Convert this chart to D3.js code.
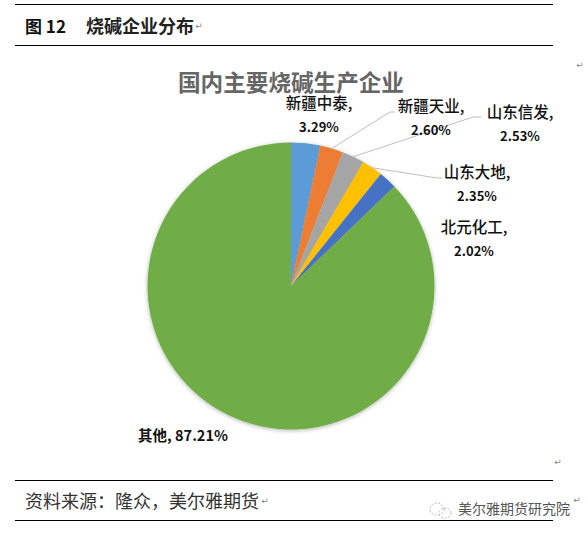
<!DOCTYPE html>
<html><head><meta charset="utf-8">
<script src="https://cdnjs.cloudflare.com/ajax/libs/d3/7.8.5/d3.min.js"></script>
<style>html,body{margin:0;padding:0;background:#fff}svg{display:block}
text{font-family:"Noto Sans CJK SC","Noto Sans",sans-serif}</style></head>
<body><div id="c"></div>
<script>
const names = ["新疆中泰","新疆天业","山东信发","山东大地","北元化工","其他"];
const shares = [3.29,2.60,2.53,2.35,2.02,87.21];
const colors = ["#5B9BD5","#ED7D31","#A5A5A5","#FFC000","#4472C4","#70AD47"];
const labelPos = [[319,109],[431,112],[520,118],[477,178],[474,233],[183,436]];
const elbows = [null,[390,112],[473,117],[437,178],null,null];
const elbowEnds = [null,[395,112],[481,117],[442,178],null,null];
const returnMarks = [[199,29],[580,68],[558,465],[265,504],[577,503]];

const W=588,H=536,cx=291,cy=286,R=143.5;
const svg=d3.select("#c").append("svg").attr("width",W).attr("height",H);
const defs=svg.append("defs");
const f=defs.append("filter").attr("id","sh").attr("x","-10%").attr("y","-10%").attr("width","120%").attr("height","120%");
f.append("feDropShadow").attr("dx",0).attr("dy",1).attr("stdDeviation",2).attr("flood-color","#000").attr("flood-opacity",.3);

[4,45,480,520].forEach(y=>svg.append("line").attr("x1",15).attr("x2",553).attr("y1",y+.5).attr("y2",y+.5).attr("stroke","#000").attr("stroke-width",1));

svg.append("text").attr("x",25).attr("y",33).attr("font-size",17).attr("font-weight",700).attr("fill","#111").text("图 12");
svg.append("text").attr("x",86).attr("y",33).attr("font-size",18).attr("font-weight",700).attr("fill","#222").text("烧碱企业分布");
svg.append("text").attr("x",291).attr("y",91).attr("text-anchor","middle").attr("font-size",22.6).attr("font-weight",700).attr("fill","#666").text("国内主要烧碱生产企业");

const pie=d3.pie().sort(null).value(d=>d)(shares);
const arc=d3.arc().innerRadius(0).outerRadius(R);
const g=svg.append("g").attr("transform",`translate(${cx},${cy})`);
g.append("g").attr("filter","url(#sh)").selectAll("path").data(pie).join("path").attr("d",arc).attr("fill",(d,i)=>colors[i]);

const rim=d=>{const a=(d.startAngle+d.endAngle)/2;return [cx+R*Math.sin(a),cy-R*Math.cos(a)];};
pie.forEach((d,i)=>{ if(!elbows[i])return;
  svg.append("polyline").attr("points",[rim(d),elbows[i],elbowEnds[i]].map(p=>p.join(",")).join(" "))
    .attr("fill","none").attr("stroke","#BFBFBF").attr("stroke-width",1);
});

names.forEach((n,i)=>{
  const [x,y]=labelPos[i];
  if(i===5){
    svg.append("text").attr("x",x).attr("y",y+5).attr("text-anchor","middle").attr("font-size",14.5).attr("font-weight",700).attr("fill","#111").text(`${n}, ${shares[i].toFixed(2)}%`);
  } else {
    svg.append("text").attr("x",x).attr("y",y).attr("text-anchor","middle").attr("font-size",15.5).attr("font-weight",500).attr("fill","#111").text(n+",");
    svg.append("text").attr("x",x).attr("y",y+23).attr("text-anchor","middle").attr("font-size",13).attr("font-weight",700).attr("fill","#111").text(shares[i].toFixed(2)+"%");
  }
});

svg.append("text").attr("x",25).attr("y",508).attr("font-size",18).attr("fill","#333").text("资料来源：隆众，美尔雅期货");
svg.append("text").attr("x",458).attr("y",514).attr("font-size",14).attr("fill","#555").text("美尔雅期货研究院");
const wm=svg.append("g").attr("fill","none").attr("stroke","#aaa").attr("stroke-width",.8).attr("stroke-dasharray","2 1.5");
wm.append("ellipse").attr("cx",437).attr("cy",509).attr("rx",7).attr("ry",6);
wm.append("ellipse").attr("cx",445).attr("cy",513).attr("rx",6).attr("ry",5);

returnMarks.forEach(([x,y])=>svg.append("text").attr("x",x).attr("y",y).attr("text-anchor","middle").attr("font-size",9).attr("fill","#888").style("font-family","DejaVu Sans").text("↵"));
</script></body></html>
